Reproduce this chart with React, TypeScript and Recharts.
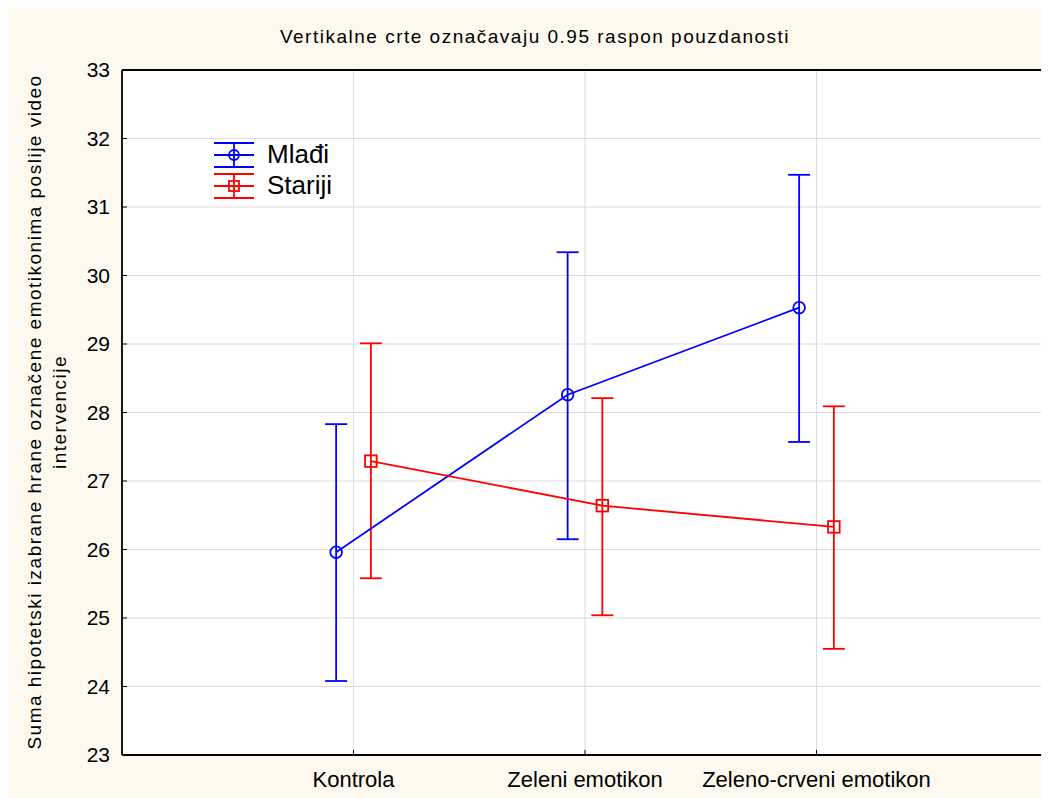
import React from 'react';
import { ComposedChart, Scatter, ErrorBar, XAxis, YAxis, CartesianGrid, ReferenceLine, Legend } from 'recharts';

const categories = ['Kontrola', 'Zeleni emotikon', 'Zeleno-crveni emotikon'];
const yTicks = [23, 24, 25, 26, 27, 28, 29, 30, 31, 32, 33];

// means and 0.95 confidence bounds
const mladjiMean = [25.96, 28.26, 29.53];
const mladjiLow = [24.08, 26.15, 27.57];
const mladjiHigh = [27.83, 30.34, 31.47];

const starijiMean = [27.29, 26.64, 26.33];
const starijiLow = [25.58, 25.04, 24.55];
const starijiHigh = [29.01, 28.21, 28.09];

const BLUE = '#0000ff';
const RED = '#ff0000';
const FONT = '"Liberation Sans", Arial, sans-serif';
const LW = 1.8;

// small side shift so the two groups don't overlap
const SHIFT = 0.075;

const buildRows = (mean: number[], low: number[], high: number[], shift: number) =>
  mean.map((m, i) => ({
    x: i + 1 + shift,
    y: m,
    err: [m - low[i], high[i] - m],
  }));

const mladjiRows = buildRows(mladjiMean, mladjiLow, mladjiHigh, -SHIFT);
const starijiRows = buildRows(starijiMean, starijiLow, starijiHigh, SHIFT);

const CircleMark = (props: any) => (
  <circle cx={props.cx} cy={props.cy} r={5.8} fill="none" stroke={BLUE} strokeWidth={LW} />
);

const SquareMark = (props: any) => (
  <rect x={props.cx - 5.8} y={props.cy - 5.8} width={11.6} height={11.6} fill="none" stroke={RED} strokeWidth={LW} />
);

const legendItems = [
  { name: 'Mlađi', color: BLUE, shape: 'circle' },
  { name: 'Stariji', color: RED, shape: 'square' },
];

const renderLegend = () => (
  <div style={{ fontFamily: FONT }}>
    {legendItems.map((item) => (
      <div key={item.name} style={{ display: 'flex', alignItems: 'center', height: 31 }}>
        <svg width={42} height={28}>
          <line x1={1} x2={41} y1={2} y2={2} stroke={item.color} strokeWidth={LW} />
          <line x1={1} x2={41} y1={14} y2={14} stroke={item.color} strokeWidth={LW} />
          <line x1={1} x2={41} y1={26} y2={26} stroke={item.color} strokeWidth={LW} />
          <line x1={21} x2={21} y1={2} y2={26} stroke={item.color} strokeWidth={LW} />
          {item.shape === 'circle' ? (
            <circle cx={21} cy={14} r={5} fill="none" stroke={item.color} strokeWidth={LW} />
          ) : (
            <rect x={16} y={9} width={10} height={10} fill="none" stroke={item.color} strokeWidth={LW} />
          )}
        </svg>
        <span style={{ marginLeft: 12, fontSize: 26, color: '#000' }}>{item.name}</span>
      </div>
    ))}
  </div>
);

export default function App() {
  return (
    <div style={{ position: 'relative', width: 1041, height: 790, background: '#fef9ee', fontFamily: FONT }}>
      <ComposedChart width={1041} height={790} margin={{ top: 62, right: 1, bottom: 0, left: 0 }}>
        <CartesianGrid fill="#ffffff" stroke="#dcdcdc" strokeWidth={1} />
        <XAxis
          type="number"
          dataKey="x"
          domain={[0, 4]}
          ticks={[1, 2, 3]}
          tickFormatter={(v: number) => categories[v - 1]}
          height={43}
          tickSize={-5}
          tickMargin={21}
          axisLine={{ stroke: '#000', strokeWidth: 1.8 }}
          tickLine={{ stroke: '#000' }}
          tick={{ fill: '#000', fontSize: 22, fontFamily: FONT }}
          allowDataOverflow
        />
        <YAxis
          type="number"
          dataKey="y"
          domain={[23, 33]}
          ticks={yTicks}
          width={114}
          tickSize={-5}
          tickMargin={17}
          axisLine={{ stroke: '#000', strokeWidth: 1.8 }}
          tickLine={{ stroke: '#000' }}
          tick={{ fill: '#000', fontSize: 21, fontFamily: FONT }}
          allowDataOverflow
        />
        <ReferenceLine y={33} stroke="#000" strokeWidth={1.8} />
        <ReferenceLine x={4} stroke="#bdbdbd" strokeWidth={1} />
        <Scatter
          name="Mlađi"
          data={mladjiRows}
          dataKey="y"
          shape={CircleMark}
          line={{ stroke: BLUE, strokeWidth: LW }}
          lineType="joint"
          isAnimationActive={false}
        >
          <ErrorBar dataKey="err" direction="y" width={11} stroke={BLUE} strokeWidth={LW} isAnimationActive={false} />
        </Scatter>
        <Scatter
          name="Stariji"
          data={starijiRows}
          dataKey="y"
          shape={SquareMark}
          line={{ stroke: RED, strokeWidth: LW }}
          lineType="joint"
          isAnimationActive={false}
        >
          <ErrorBar dataKey="err" direction="y" width={11} stroke={RED} strokeWidth={LW} isAnimationActive={false} />
        </Scatter>
        <Legend
          layout="horizontal"
          verticalAlign="middle"
          align="center"
          content={renderLegend}
          wrapperStyle={{ left: 205, top: 131, width: 200, height: 62 }}
        />
      </ComposedChart>
      <svg
        width={1041}
        height={790}
        style={{ position: 'absolute', left: 0, top: 0, pointerEvents: 'none' }}
      >
        <text x={527} y={35} textAnchor="middle" fontSize={19} letterSpacing={1.5} fill="#000" fontFamily={FONT}>
          Vertikalne crte označavaju 0.95 raspon pouzdanosti
        </text>
        <text transform="translate(33,404) rotate(-90)" textAnchor="middle" fontSize={19} letterSpacing={1.5} fill="#000" fontFamily={FONT}>
          Suma hipotetski izabrane hrane označene emotikonima poslije video
        </text>
        <text transform="translate(58,404) rotate(-90)" textAnchor="middle" fontSize={19} letterSpacing={1.5} fill="#000" fontFamily={FONT}>
          intervencije
        </text>
      </svg>
    </div>
  );
}
